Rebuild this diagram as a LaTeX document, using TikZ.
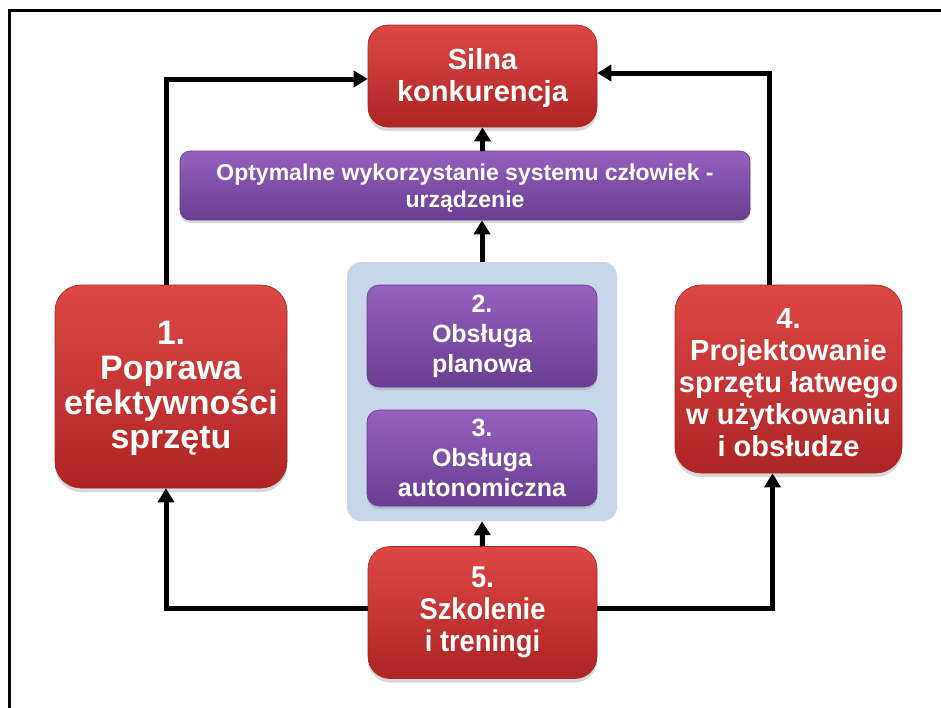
\documentclass[tikz,border=0pt]{standalone}
\usepackage{fontspec}
\setmainfont{Liberation Sans}
\usetikzlibrary{arrows.meta,shadows}
\definecolor{redtop}{RGB}{222,72,68}
\definecolor{redbot}{RGB}{174,36,36}
\definecolor{redline}{RGB}{165,40,40}
\definecolor{purtop}{RGB}{148,98,190}
\definecolor{purbot}{RGB}{104,62,146}
\definecolor{purline}{RGB}{100,60,140}
\definecolor{panel}{RGB}{201,214,233}
\tikzset{
  redbox/.style={rounded corners=20pt, top color=redtop, bottom color=redbot, draw=redline, line width=0.6pt,
    text=white, align=center, inner sep=0pt, font=\bfseries,
    drop shadow={opacity=0.3, shadow xshift=0pt, shadow yshift=-4pt}},
  purbox/.style={rounded corners=12pt, top color=purtop, bottom color=purbot, draw=purline, line width=0.6pt,
    text=white, align=center, inner sep=0pt, font=\bfseries,
    drop shadow={opacity=0.3, shadow xshift=0pt, shadow yshift=-3pt}},
  conn/.style={line width=5pt, -{Triangle[length=14pt,width=16pt]}},
}
\newcommand{\lowered}[2]{\raisebox{#1}[\height][\depth]{\begin{tabular}{@{}c@{}}#2\end{tabular}}}
\begin{document}
\begin{tikzpicture}[x=1pt,y=-1pt]
\useasboundingbox (0,0) rectangle (941,707);
\fill[white] (0,0) rectangle (941,707);
\draw[line width=3pt] (9,720) -- (9,10) -- (950,10);

\node[fill=panel, rounded corners=14pt, minimum width=270pt, minimum height=259pt, inner sep=0pt] (panel) at (482,391.5) {};

\node[redbox, minimum width=229pt, minimum height=102pt, font=\bfseries\fontsize{29}{32}\selectfont] (silna) at (482.5,76) {\lowered{-3pt}{Silna\\konkurencja}};
\node[purbox, rounded corners=10pt, minimum width=570pt, minimum height=69pt, font=\bfseries\fontsize{23}{27}\selectfont] (opt) at (465,185.5) {\lowered{-3pt}{Optymalne wykorzystanie systemu człowiek -\\urządzenie}};
\node[purbox, minimum width=230pt, minimum height=102pt, font=\bfseries\fontsize{25}{30}\selectfont] (b2) at (482,336) {2.\\Obsługa\\planowa};
\node[purbox, minimum width=230pt, minimum height=96pt, font=\bfseries\fontsize{25}{30}\selectfont] (b3) at (482,458) {3.\\Obsługa\\autonomiczna};
\node[redbox, rounded corners=26pt, minimum width=232pt, minimum height=203pt, font=\bfseries\fontsize{34}{34}\selectfont] (b1) at (171,386.5) {\lowered{-3pt}{1.\\[1pt]Poprawa\\efektywności\\sprzętu}};
\node[redbox, rounded corners=26pt, minimum width=227pt, minimum height=188pt, font=\bfseries\fontsize{29}{32}\selectfont] (b4) at (788.5,379) {\lowered{-7pt}{4.\\Projektowanie\\sprzętu łatwego\\w użytkowaniu\\i obsłudze}};
\node[redbox, rounded corners=22pt, minimum width=229pt, minimum height=132pt, font=\bfseries\fontsize{30}{33}\selectfont] (b5) at (482.5,612.5) {\scalebox{0.91}[1]{\begin{tabular}{@{}c@{}}5.\\[-1pt]Szkolenie\\[-1pt]i treningi\end{tabular}}};

\draw[conn] (opt.north -| silna.south) -- (silna.south);
\draw[conn] (panel.north) -- (panel.north |- opt.south);
\draw[conn] (b5.north) -- (panel.south);
\draw[conn] ([xshift=-5pt]b1.north) |- ([yshift=-3pt]silna.west);
\draw[conn] ([xshift=-19pt]b4.north) |- ([yshift=3pt]silna.east);
\draw[conn] ([yshift=4pt]b5.west) -| ([xshift=-5pt]b1.south);
\draw[conn] ([yshift=4pt]b5.east) -| ([xshift=-16pt]b4.south);
\end{tikzpicture}
\end{document}
